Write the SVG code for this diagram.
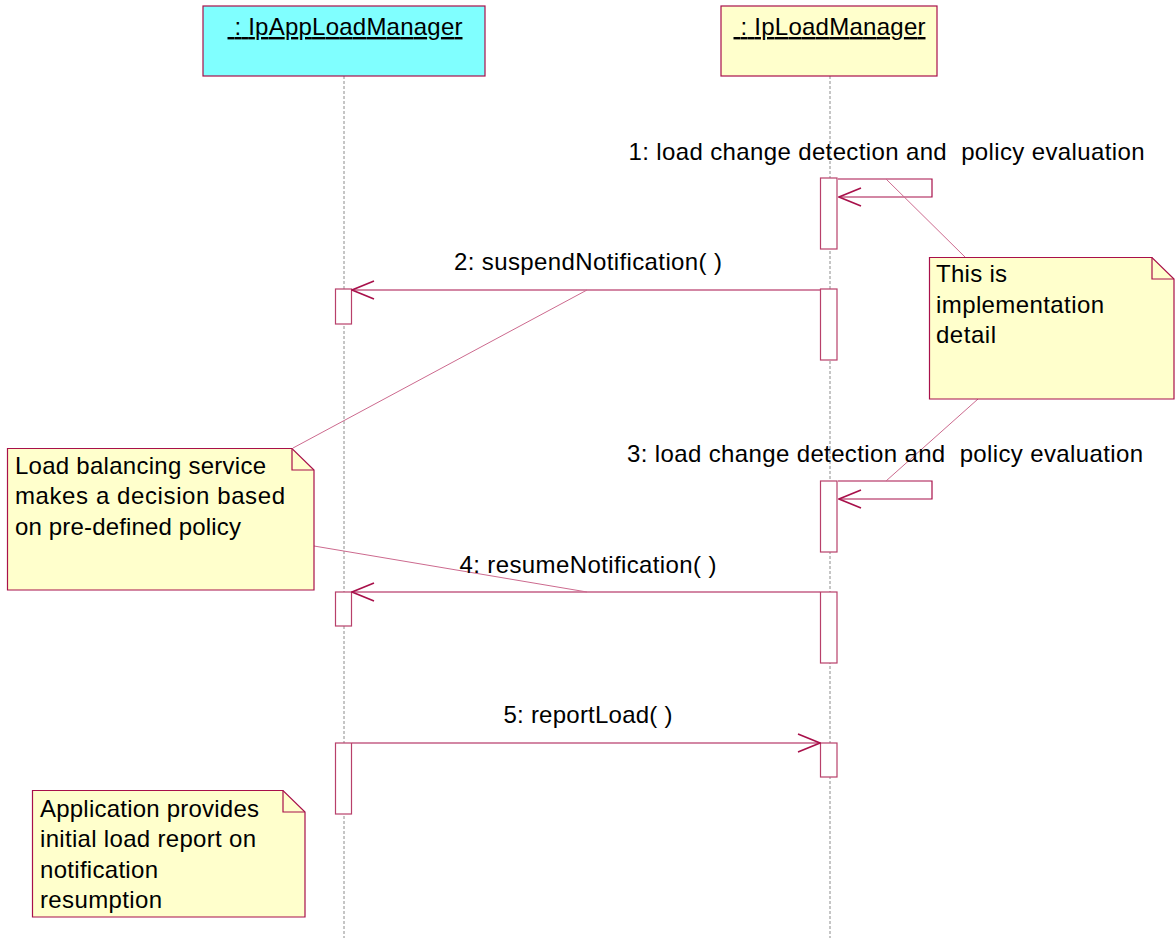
<svg xmlns="http://www.w3.org/2000/svg" width="1176" height="938" viewBox="0 0 1176 938">
<style>
text{font-family:"Liberation Sans",Arial,sans-serif;font-size:24px;fill:#000}
.hdr{text-decoration:underline}
.life{stroke:#8c8c8c;stroke-width:1;stroke-dasharray:3 2;fill:none}
.act{fill:#fff;stroke:#b8406a;stroke-width:1.2}
.msg{fill:none;stroke:#a8104a;stroke-width:1.2;marker-end:url(#open)}
.anchor{stroke:#cc6a8e;stroke-width:1;fill:none}
.note{fill:#ffffcc;stroke:#a8104a;stroke-width:1.2}
.fold{fill:none;stroke:#a8104a;stroke-width:1.2}
</style>
<defs>
<marker id="open" viewBox="0 0 24 20" refX="23" refY="10" markerWidth="24" markerHeight="20" markerUnits="userSpaceOnUse" orient="auto">
<path d="M1,1 L23,10 L1,19" fill="none" stroke="#a8104a" stroke-width="1.6"/>
</marker>
</defs>
<rect width="1176" height="938" fill="#fff"/>

<g id="lifeline-appload">
<line class="life" x1="344" y1="76" x2="344" y2="938"/>
<rect x="203" y="6" width="282" height="70" fill="#80ffff" stroke="#a8104a" stroke-width="1.2"/>
<text class="hdr" x="345" y="35" text-anchor="middle" textLength="235" lengthAdjust="spacing" xml:space="preserve"> : IpAppLoadManager</text>
</g>

<g id="lifeline-load">
<line class="life" x1="830" y1="76" x2="830" y2="938"/>
<rect x="721" y="6" width="216" height="70" fill="#ffffcc" stroke="#a8104a" stroke-width="1.2"/>
<text class="hdr" x="829.5" y="35" text-anchor="middle" textLength="192" lengthAdjust="spacing" xml:space="preserve"> : IpLoadManager</text>
</g>

<g id="activations">
<rect class="act" x="820.5" y="178" width="16.5" height="71"/>
<rect class="act" x="335.5" y="289" width="16" height="35"/>
<rect class="act" x="820.5" y="289" width="16.5" height="71"/>
<rect class="act" x="820.5" y="481" width="16.5" height="71"/>
<rect class="act" x="335.5" y="592" width="16" height="34"/>
<rect class="act" x="820.5" y="592" width="16.5" height="71"/>
<rect class="act" x="335.5" y="743" width="16" height="71"/>
<rect class="act" x="820.5" y="743" width="16.5" height="34"/>
</g>

<g id="connectors">
<path class="msg" d="M838,179 H932 V197 H839"/>
<path class="msg" d="M820,290 H352"/>
<path class="msg" d="M838,481 H932 V499 H839"/>
<path class="msg" d="M820,592 H352"/>
<path class="msg" d="M352,743 H820"/>
<line class="anchor" x1="886" y1="179" x2="965" y2="257"/>
<line class="anchor" x1="978" y1="399" x2="886" y2="481"/>
<line class="anchor" x1="587" y1="290" x2="293" y2="448"/>
<line class="anchor" x1="314" y1="546" x2="587" y2="592"/>
</g>

<g id="labels">
<text x="886.5" y="160" text-anchor="middle" textLength="516" lengthAdjust="spacing" xml:space="preserve">1: load change detection and  policy evaluation</text>
<text x="588" y="270" text-anchor="middle" textLength="268" lengthAdjust="spacing">2: suspendNotification( )</text>
<text x="885" y="462" text-anchor="middle" textLength="516" lengthAdjust="spacing" xml:space="preserve">3: load change detection and  policy evaluation</text>
<text x="588" y="573" text-anchor="middle" textLength="257" lengthAdjust="spacing">4: resumeNotification( )</text>
<text x="588" y="723" text-anchor="middle" textLength="169" lengthAdjust="spacing">5: reportLoad( )</text>
</g>

<g id="note-impl">
<path class="note" d="M929.5,257.5 H1152 L1174,279 V399 H929.5 Z"/>
<path class="fold" d="M1152,257.5 V279 H1174"/>
<text x="936" y="282" textLength="71" lengthAdjust="spacing">This is</text>
<text x="936" y="313" textLength="168" lengthAdjust="spacing">implementation</text>
<text x="936" y="343" textLength="60" lengthAdjust="spacing">detail</text>
</g>

<g id="note-policy">
<path class="note" d="M7.5,448.5 H292 L314,470 V590 H7.5 Z"/>
<path class="fold" d="M292,448.5 V470 H314"/>
<text x="15" y="474" textLength="251" lengthAdjust="spacing">Load balancing service</text>
<text x="15" y="504" textLength="270" lengthAdjust="spacing">makes a decision based</text>
<text x="15" y="535" textLength="226" lengthAdjust="spacing">on pre-defined policy</text>
</g>

<g id="note-report">
<path class="note" d="M32.5,790.5 H283 L305,812 V917 H32.5 Z"/>
<path class="fold" d="M283,790.5 V812 H305"/>
<text x="40" y="817" textLength="219" lengthAdjust="spacing">Application provides</text>
<text x="40" y="847" textLength="216" lengthAdjust="spacing">initial load report on</text>
<text x="40" y="878" textLength="118" lengthAdjust="spacing">notification</text>
<text x="40" y="908" textLength="122" lengthAdjust="spacing">resumption</text>
</g>
</svg>
